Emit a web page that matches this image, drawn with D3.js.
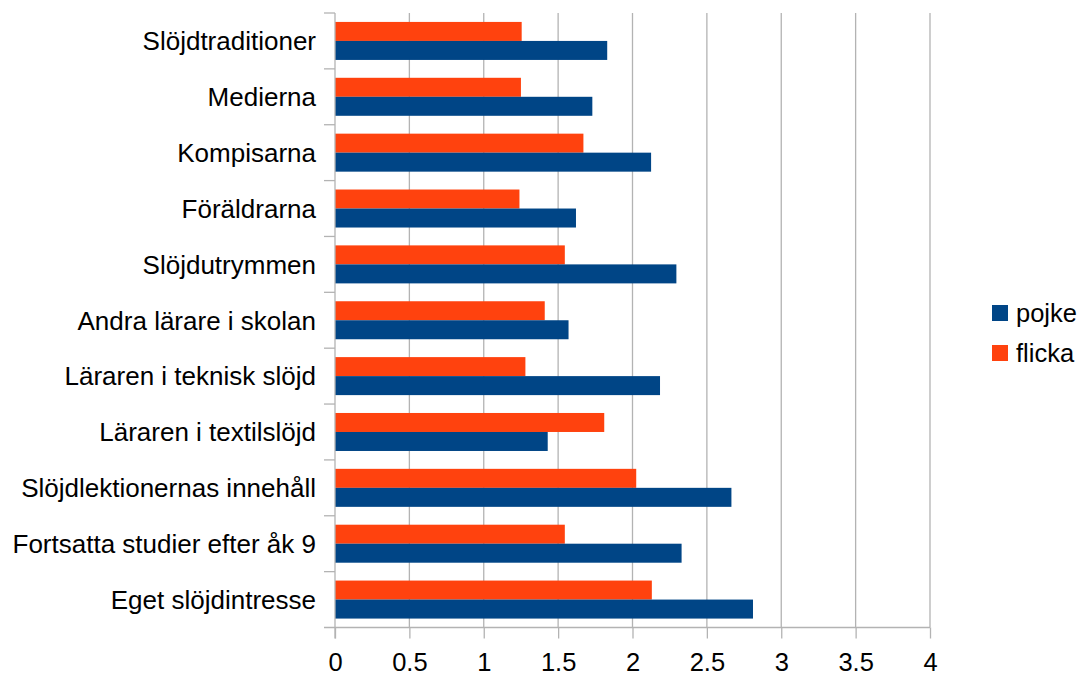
<!DOCTYPE html>
<html>
<head>
<meta charset="utf-8">
<script src="https://cdn.jsdelivr.net/npm/d3@7"></script>
<style>
  html, body { margin: 0; padding: 0; background: #fff; }
  svg { display: block; font-family: "Liberation Sans", Arial, sans-serif; }
</style>
</head>
<body>
<svg id="chart" width="1088" height="675"></svg>
<script>
const categories = [
  "Slöjdtraditioner",
  "Medierna",
  "Kompisarna",
  "Föräldrarna",
  "Slöjdutrymmen",
  "Andra lärare i skolan",
  "Läraren i teknisk slöjd",
  "Läraren i textilslöjd",
  "Slöjdlektionernas innehåll",
  "Fortsatta studier efter åk 9",
  "Eget slöjdintresse"
];
const pojke = [1.83, 1.73, 2.125, 1.62, 2.295, 1.57, 2.185, 1.43, 2.665, 2.33, 2.81];
const flicka = [1.255, 1.25, 1.67, 1.24, 1.545, 1.41, 1.28, 1.81, 2.025, 1.545, 2.13];
const seriesNames = ["pojke", "flicka"];
const seriesColors = ["#004586", "#ff420e"];
const xTicks = [0, 0.5, 1, 1.5, 2, 2.5, 3, 3.5, 4];

const svg = d3.select("#chart");
const plotLeft = 335, plotRight = 930, plotTop = 13, plotBottom = 627.5;

const x = d3.scaleLinear().domain([0, 4]).range([plotLeft, plotRight]);
const y = d3.scaleBand().domain(categories).range([plotTop, plotBottom]).padding(0);
const inner = d3.scaleBand().domain(["flicka", "pojke"]).range([0, y.bandwidth()])
  .paddingInner(0).paddingOuter(0.47);

const gridColor = "#b3b3b3";

// gridlines
svg.append("g").selectAll("line").data(xTicks.slice(1)).join("line")
  .attr("x1", d => x(d)).attr("x2", d => x(d))
  .attr("y1", plotTop).attr("y2", plotBottom)
  .attr("stroke", gridColor).attr("stroke-width", 1.3);

// bars
const rows = categories.map((c, i) => ({ c, pojke: pojke[i], flicka: flicka[i] }));
const barG = svg.append("g");
["flicka", "pojke"].forEach(s => {
  const color = seriesColors[seriesNames.indexOf(s)];
  barG.append("g").selectAll("rect").data(rows).join("rect")
    .attr("x", x(0))
    .attr("y", d => y(d.c) + inner(s))
    .attr("width", d => x(d[s]) - x(0))
    .attr("height", inner.bandwidth())
    .attr("fill", color);
});

// x axis
const xAxis = d3.axisBottom(x).tickValues(xTicks).tickSize(11).tickPadding(14)
  .tickFormat(d3.format("~g"));
const gx = svg.append("g").attr("transform", `translate(0,${plotBottom})`).call(xAxis);
gx.select(".domain").remove();
gx.selectAll(".tick line").attr("stroke", gridColor).attr("stroke-width", 1.3);
gx.selectAll(".tick text").attr("fill", "#000").attr("font-size", "25.5px")
  .attr("font-family", '"Liberation Sans", Arial, sans-serif');
svg.append("line").attr("x1", plotLeft - 11).attr("x2", plotRight)
  .attr("y1", plotBottom).attr("y2", plotBottom)
  .attr("stroke", gridColor).attr("stroke-width", 1.3);

// y axis line + ticks at band boundaries
svg.append("line").attr("x1", plotLeft).attr("x2", plotLeft)
  .attr("y1", plotTop).attr("y2", plotBottom + 11)
  .attr("stroke", gridColor).attr("stroke-width", 1.3);
const boundaries = categories.map(c => y(c));
svg.append("g").selectAll("line").data(boundaries).join("line")
  .attr("x1", plotLeft - 11).attr("x2", plotLeft)
  .attr("y1", d => d).attr("y2", d => d)
  .attr("stroke", gridColor).attr("stroke-width", 1.3);

// y labels
svg.append("g").selectAll("text").data(categories).join("text")
  .attr("x", 316)
  .attr("y", d => y(d) + y.bandwidth() / 2)
  .attr("dy", "0.36em")
  .attr("text-anchor", "end")
  .attr("font-size", "26px")
  .attr("fill", "#000")
  .text(d => d);

// legend
const legend = svg.append("g");
seriesNames.forEach((s, i) => {
  const ly = 305 + i * 40;
  legend.append("rect").attr("x", 992).attr("y", ly).attr("width", 16).attr("height", 16)
    .attr("fill", seriesColors[i]);
  legend.append("text").attr("x", 1016).attr("y", ly + 8).attr("dy", "0.36em")
    .attr("font-size", "25.5px").attr("fill", "#000").text(s);
});
</script>
</body>
</html>
